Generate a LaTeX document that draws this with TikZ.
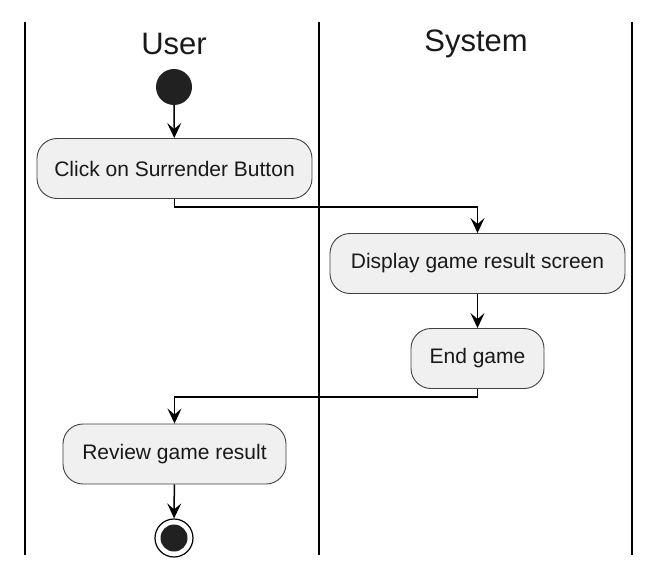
\documentclass[tikz,border=0pt]{standalone}
\usepackage{fontspec}
\setmainfont{Liberation Sans}
\usetikzlibrary{arrows.meta}
\begin{document}
\begin{tikzpicture}[x=1bp,y=-1bp,
  lane/.style={line width=2bp,black},
  act/.style={draw=black!75,line width=0.9bp,fill=black!6,rounded corners=20bp,minimum height=60bp,inner xsep=16bp,font=\fontsize{21bp}{24bp}\selectfont,text=black!90},
  title/.style={font=\fontsize{31bp}{34bp}\selectfont,text=black!90},
  flow/.style={line width=1.5bp,-{Stealth[length=15bp,width=14bp,inset=6bp]}}]
\useasboundingbox (0,0) rectangle (665,577);
\draw[lane] (25,22) -- (25,555);
\draw[lane] (319,22) -- (319,555);
\draw[lane] (632,22) -- (632,555);
\node[title] (tuser) at (174,44) {User};
\node[title] (tsys) at (476,44) {System};
\node[circle,fill=black!87,minimum size=36bp,inner sep=0] (start) at (174,87) {};
\node[act,minimum width=275bp] (a1) at (174.5,168.5) {Click on Surrender Button};
\node[act,minimum width=295bp] (a2) at (477.5,263.5) {Display game result screen};
\node[act,minimum width=133bp] (a3) at (477.5,358.5) {End game};
\node[act,minimum width=223bp] (a4) at (174.5,454) {Review game result};
\node[circle,draw=black,line width=1.2bp,fill=white,minimum size=38bp,inner sep=0] (stop) at (174,538) {};
\node[circle,fill=black!87,minimum size=27bp,inner sep=0] (stopin) at (stop) {};
\draw[flow] (start) -- (a1);
\draw[flow] (a1.south) |- (477.5,207) -- (a2.north);
\draw[flow] (a2) -- (a3);
\draw[flow] (a3.south) |- (174.5,397) -- (a4.north);
\draw[flow] (a4) -- (stop);
\end{tikzpicture}
\end{document}
